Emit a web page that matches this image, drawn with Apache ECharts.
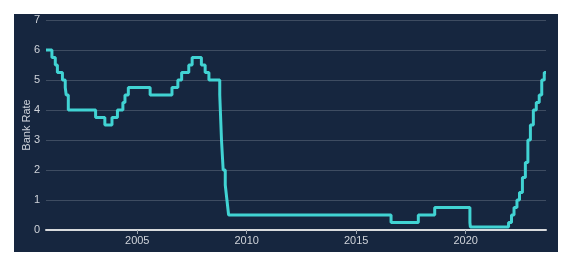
<!DOCTYPE html>
<html>
<head>
<meta charset="utf-8">
<script src="https://cdn.jsdelivr.net/npm/echarts@6/dist/echarts.min.js"></script>
<style>
  body { margin: 0; background: #ffffff; }
  #chart { position: absolute; left: 14px; top: 14px; width: 544px; height: 238px; }
</style>
</head>
<body>
<div id="chart"></div>
<script>
// dates on which each rate took effect, last entry just extends the line
var dates = ['2000-11-01', '2001-02-08', '2001-04-05', '2001-05-10', '2001-08-02', '2001-09-18', '2001-10-04', '2001-11-08',
    '2003-02-06', '2003-07-10', '2003-11-06', '2004-02-05', '2004-05-06', '2004-06-10', '2004-08-05', '2005-08-04',
    '2006-08-03', '2006-11-09', '2007-01-11', '2007-05-10', '2007-07-05', '2007-12-06', '2008-02-07', '2008-04-10',
    '2008-10-08', '2008-11-06', '2008-12-04', '2009-01-08', '2009-02-05', '2009-03-05', '2016-08-04', '2017-11-02',
    '2018-08-02', '2020-03-11', '2020-03-19', '2021-12-16', '2022-02-03', '2022-03-17', '2022-05-05', '2022-06-16',
    '2022-08-04', '2022-09-22', '2022-11-03', '2022-12-15', '2023-02-02', '2023-03-23', '2023-05-11', '2023-06-22',
    '2023-08-03', '2023-09-01'];
var rates = [6.0, 5.75, 5.5, 5.25, 5.0, 4.75, 4.5, 4.0,
    3.75, 3.5, 3.75, 4.0, 4.25, 4.5, 4.75, 4.5,
    4.75, 5.0, 5.25, 5.5, 5.75, 5.5, 5.25, 5.0,
    4.5, 3.0, 2.0, 1.5, 1.0, 0.5, 0.25, 0.5,
    0.75, 0.25, 0.1, 0.25, 0.5, 0.75, 1.0, 1.25,
    1.75, 2.25, 3.0, 3.5, 4.0, 4.25, 4.5, 5.0,
    5.25, 5.25];
var tickYears = [2005, 2010, 2015, 2020];
var yTicks = [0, 1, 2, 3, 4, 5, 6, 7];

// date string -> fractional year, so a plain value axis can place it
function toYear(s) {
    var d = new Date(s);
    var y = d.getUTCFullYear();
    var start = Date.UTC(y, 0, 1), end = Date.UTC(y + 1, 0, 1);
    return y + (d.getTime() - start) / (end - start);
}

var chart = echarts.init(document.getElementById('chart'));
var textColor = '#cfd3da';

var option = {
    backgroundColor: '#16263f',
    animation: false,
    grid: { left: 32, right: 12, top: 6, bottom: 22, containLabel: false, outerBoundsMode: 'none' },
    xAxis: {
        type: 'value',
        min: toYear(dates[0]),
        max: toYear(dates[dates.length - 1]),
        axisLine: { onZero: false, lineStyle: { color: '#d8dadd', width: 2 } },
        axisTick: { show: true, customValues: tickYears, length: 4, lineStyle: { color: '#9aa3ae' } },
        axisLabel: {
            customValues: tickYears,
            color: textColor,
            fontSize: 11,
            fontFamily: 'Liberation Sans',
            margin: 5,
            formatter: function (v) { return String(v); }
        },
        splitLine: { show: false }
    },
    yAxis: {
        type: 'value',
        min: yTicks[0],
        max: yTicks[yTicks.length - 1],
        interval: 1,
        name: 'Bank Rate',
        nameLocation: 'middle',
        nameGap: 14,
        nameMoveOverlap: false,
        nameTextStyle: { color: textColor, fontSize: 11, fontFamily: 'Liberation Sans' },
        axisLine: { show: false },
        axisTick: { show: false },
        axisLabel: { color: textColor, fontSize: 11, fontFamily: 'Liberation Sans', margin: 6 },
        splitLine: { lineStyle: { color: '#3e4c61', width: 1 } }
    },
    series: [{
        type: 'line',
        step: 'end',
        showSymbol: false,
        data: dates.map(function (d, i) { return [toYear(d), rates[i]]; }),
        lineStyle: { color: '#41d3d3', width: 3 }
    }]
};
chart.setOption(option);
</script>
</body>
</html>
